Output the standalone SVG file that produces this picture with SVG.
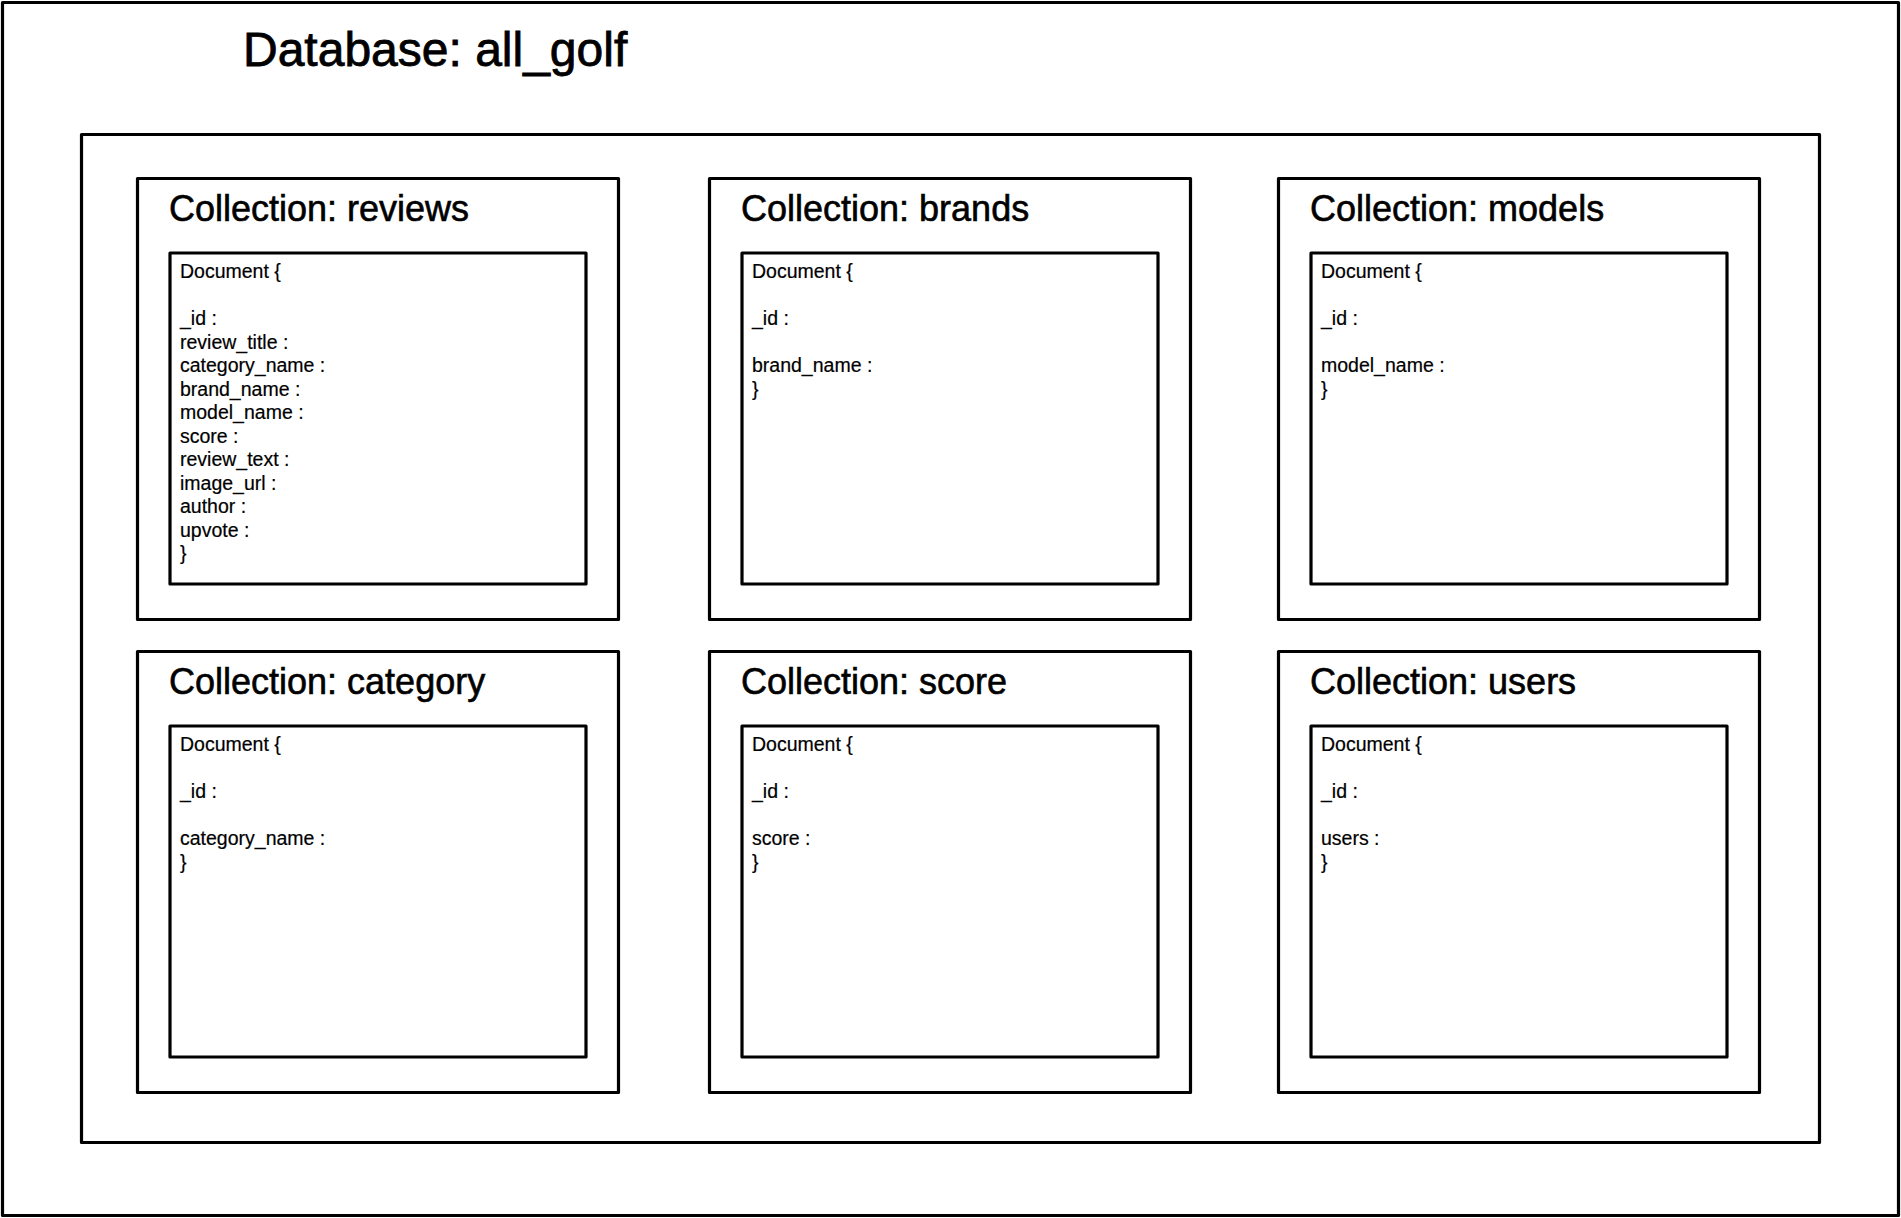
<svg xmlns="http://www.w3.org/2000/svg" width="1901" height="1218" viewBox="0 0 1901 1218">
<style>
.frame{fill:#fff;stroke:#000;stroke-width:3.2;stroke-linejoin:round}
.db{font-family:"Liberation Sans",Arial,sans-serif;font-size:48px;fill:#000;stroke:#000;stroke-width:0.8}
.ct{font-family:"Liberation Sans",Arial,sans-serif;font-size:36px;fill:#000;stroke:#000;stroke-width:0.6}
.doc{font-family:"Liberation Sans",Arial,sans-serif;font-size:19.5px;fill:#000;stroke:#000;stroke-width:0.2}
</style>
<rect width="1901" height="1218" fill="#fff"/>
<g id="database">
<rect class="frame" x="2.5" y="2.5" width="1896" height="1213"/>
<text class="db" x="243" y="66">Database: all_golf</text>
<rect class="frame" x="81.5" y="134.5" width="1738" height="1008"/>
</g>
<g id="connectors"></g>
<g id="coll-reviews">
<rect class="frame" x="137.5" y="178.5" width="481" height="441"/>
<text class="ct" x="169" y="221">Collection: reviews</text>
<rect class="frame" x="170" y="253" width="416" height="331"/>
<text class="doc" x="180" y="278">
<tspan x="180" dy="0">Document {</tspan>
<tspan x="180" dy="47">_id :</tspan>
<tspan x="180" dy="23.5">review_title :</tspan>
<tspan x="180" dy="23.5">category_name :</tspan>
<tspan x="180" dy="23.5">brand_name :</tspan>
<tspan x="180" dy="23.5">model_name :</tspan>
<tspan x="180" dy="23.5">score :</tspan>
<tspan x="180" dy="23.5">review_text :</tspan>
<tspan x="180" dy="23.5">image_url :</tspan>
<tspan x="180" dy="23.5">author :</tspan>
<tspan x="180" dy="23.5">upvote :</tspan>
<tspan x="180" dy="23.5">}</tspan>
</text>
</g>
<g id="coll-brands">
<rect class="frame" x="709.5" y="178.5" width="481" height="441"/>
<text class="ct" x="741" y="221">Collection: brands</text>
<rect class="frame" x="742" y="253" width="416" height="331"/>
<text class="doc" x="752" y="278">
<tspan x="752" dy="0">Document {</tspan>
<tspan x="752" dy="47">_id :</tspan>
<tspan x="752" dy="47">brand_name :</tspan>
<tspan x="752" dy="23.5">}</tspan>
</text>
</g>
<g id="coll-models">
<rect class="frame" x="1278.5" y="178.5" width="481" height="441"/>
<text class="ct" x="1310" y="221">Collection: models</text>
<rect class="frame" x="1311" y="253" width="416" height="331"/>
<text class="doc" x="1321" y="278">
<tspan x="1321" dy="0">Document {</tspan>
<tspan x="1321" dy="47">_id :</tspan>
<tspan x="1321" dy="47">model_name :</tspan>
<tspan x="1321" dy="23.5">}</tspan>
</text>
</g>
<g id="coll-category">
<rect class="frame" x="137.5" y="651.5" width="481" height="441"/>
<text class="ct" x="169" y="694">Collection: category</text>
<rect class="frame" x="170" y="726" width="416" height="331"/>
<text class="doc" x="180" y="751">
<tspan x="180" dy="0">Document {</tspan>
<tspan x="180" dy="47">_id :</tspan>
<tspan x="180" dy="47">category_name :</tspan>
<tspan x="180" dy="23.5">}</tspan>
</text>
</g>
<g id="coll-score">
<rect class="frame" x="709.5" y="651.5" width="481" height="441"/>
<text class="ct" x="741" y="694">Collection: score</text>
<rect class="frame" x="742" y="726" width="416" height="331"/>
<text class="doc" x="752" y="751">
<tspan x="752" dy="0">Document {</tspan>
<tspan x="752" dy="47">_id :</tspan>
<tspan x="752" dy="47">score :</tspan>
<tspan x="752" dy="23.5">}</tspan>
</text>
</g>
<g id="coll-users">
<rect class="frame" x="1278.5" y="651.5" width="481" height="441"/>
<text class="ct" x="1310" y="694">Collection: users</text>
<rect class="frame" x="1311" y="726" width="416" height="331"/>
<text class="doc" x="1321" y="751">
<tspan x="1321" dy="0">Document {</tspan>
<tspan x="1321" dy="47">_id :</tspan>
<tspan x="1321" dy="47">users :</tspan>
<tspan x="1321" dy="23.5">}</tspan>
</text>
</g>
</svg>
